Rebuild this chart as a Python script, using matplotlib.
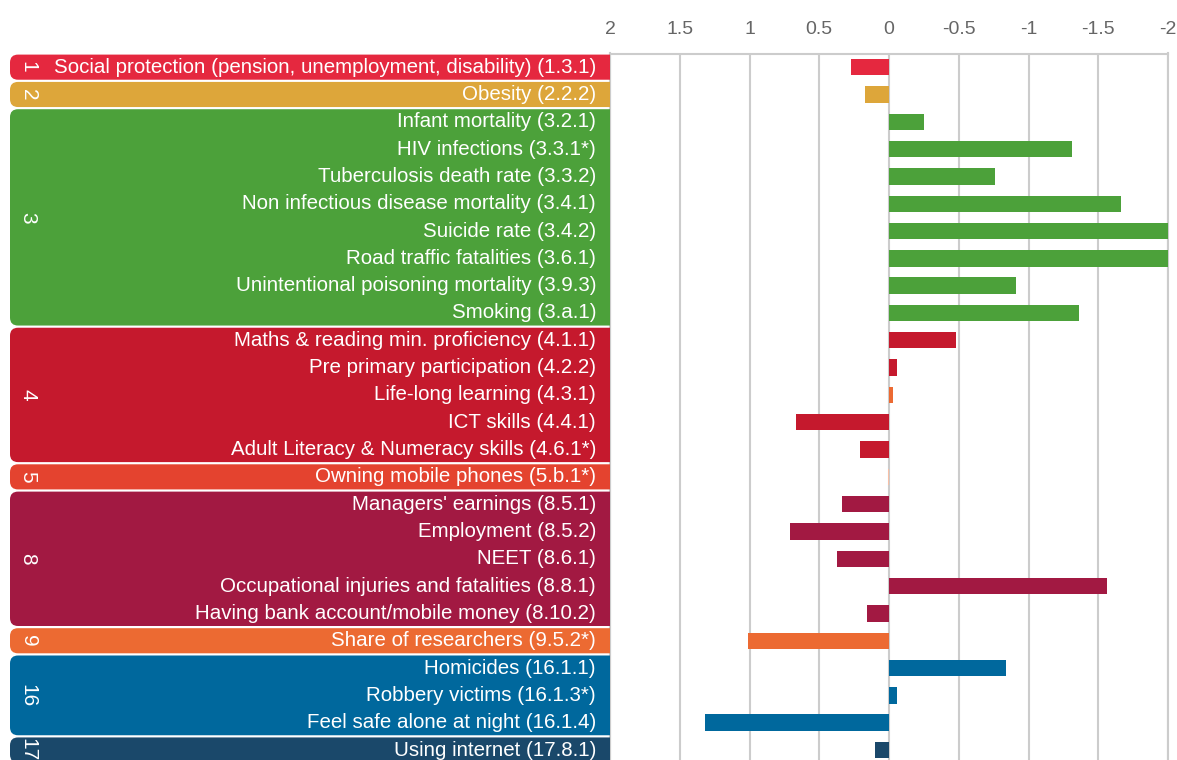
import matplotlib
matplotlib.use("Agg")
import matplotlib.pyplot as plt
from matplotlib.patches import FancyBboxPatch

plt.rcParams['font.family'] = ['Liberation Sans', 'DejaVu Sans']

# indicators, top to bottom
labels = [
    "Social protection (pension, unemployment, disability) (1.3.1)",
    "Obesity (2.2.2)",
    "Infant mortality (3.2.1)",
    "HIV infections (3.3.1*)",
    "Tuberculosis death rate (3.3.2)",
    "Non infectious disease mortality (3.4.1)",
    "Suicide rate (3.4.2)",
    "Road traffic fatalities (3.6.1)",
    "Unintentional poisoning mortality (3.9.3)",
    "Smoking (3.a.1)",
    "Maths & reading min. proficiency (4.1.1)",
    "Pre primary participation (4.2.2)",
    "Life-long learning (4.3.1)",
    "ICT skills (4.4.1)",
    "Adult Literacy & Numeracy skills (4.6.1*)",
    "Owning mobile phones (5.b.1*)",
    "Managers' earnings (8.5.1)",
    "Employment (8.5.2)",
    "NEET (8.6.1)",
    "Occupational injuries and fatalities (8.8.1)",
    "Having bank account/mobile money (8.10.2)",
    "Share of researchers (9.5.2*)",
    "Homicides (16.1.1)",
    "Robbery victims (16.1.3*)",
    "Feel safe alone at night (16.1.4)",
    "Using internet (17.8.1)",
]
values = [0.27, 0.17, -0.25, -1.31, -0.76, -1.66, -2.0, -2.0, -0.91, -1.36,
          -0.48, -0.06, -0.03, 0.67, 0.21, 0.01, 0.34, 0.71, 0.37, -1.56,
          0.16, 1.01, -0.84, -0.06, 1.32, 0.10]

# SDG groups: (goal number, number of rows, colour)
goals = ["1", "2", "3", "4", "5", "8", "9", "16", "17"]
goal_sizes = [1, 1, 8, 5, 1, 5, 1, 3, 1]
goal_colors = ["#E5283F", "#DDA63A", "#4CA13A", "#C5192D", "#E4432F",
               "#A21942", "#EC6A32", "#00689D", "#1A486A"]

bar_colors = []
for g, n, c in zip(goals, goal_sizes, goal_colors):
    bar_colors += [c] * n
bar_colors[12] = "#EC6A32"   # life-long learning
bar_colors[15] = "#F7BFA6"   # mobile phones

W, H = 1177, 760
fig = plt.figure(figsize=(W / 100, H / 100), dpi=100)

row_h = 27.32
y0 = 67
y_bottom = (H - y0) / row_h
ax = fig.add_axes([610 / W, 0, (1168 - 610) / W, 1 - 53.5 / H])
ypos = list(range(len(labels)))
ax.barh(ypos, values, height=0.6, color=bar_colors, zorder=3)
ax.set_xlim(2, -2)
ax.set_ylim(y_bottom, -0.5)
ticks = [2, 1.5, 1, 0.5, 0, -0.5, -1, -1.5, -2]
ax.set_xticks(ticks)
ax.set_xticklabels([("%g" % t) for t in ticks])
ax.xaxis.tick_top()
ax.tick_params(axis='x', length=0, pad=11, labelsize=14, labelcolor='#666666')
ax.set_yticks([])
ax.grid(axis='x', color='#CCCCCC', linewidth=1.5, zorder=0)
for s in ax.spines.values():
    s.set_color('#CCCCCC')
    s.set_linewidth(1.5)
ax.spines['bottom'].set_visible(False)

# left panel with coloured group boxes (right side clipped square by the axes)
pax = fig.add_axes([0, 0, 610 / W, 1 - 53.5 / H])
pax.set_xlim(0, 610)
pax.set_ylim(y_bottom, -0.5)
pax.axis('off')
asp = 1 / row_h
start = 0
for g, n, c in zip(goals, goal_sizes, goal_colors):
    top = start - 0.5 + 0.04
    h = n - 0.08
    box = FancyBboxPatch((10, top), 630, h,
                         boxstyle="round,pad=0,rounding_size=8",
                         mutation_aspect=asp, facecolor=c,
                         edgecolor='none')
    pax.add_patch(box)
    pax.text(28, start + (n - 1) / 2, g, rotation=270, color='white',
             fontsize=15, ha='center', va='center')
    start += n

for i, lab in enumerate(labels):
    pax.text(596, i, lab, color='white', fontsize=14.8, ha='right', va='center')

fig.savefig("out.png", dpi=100)
